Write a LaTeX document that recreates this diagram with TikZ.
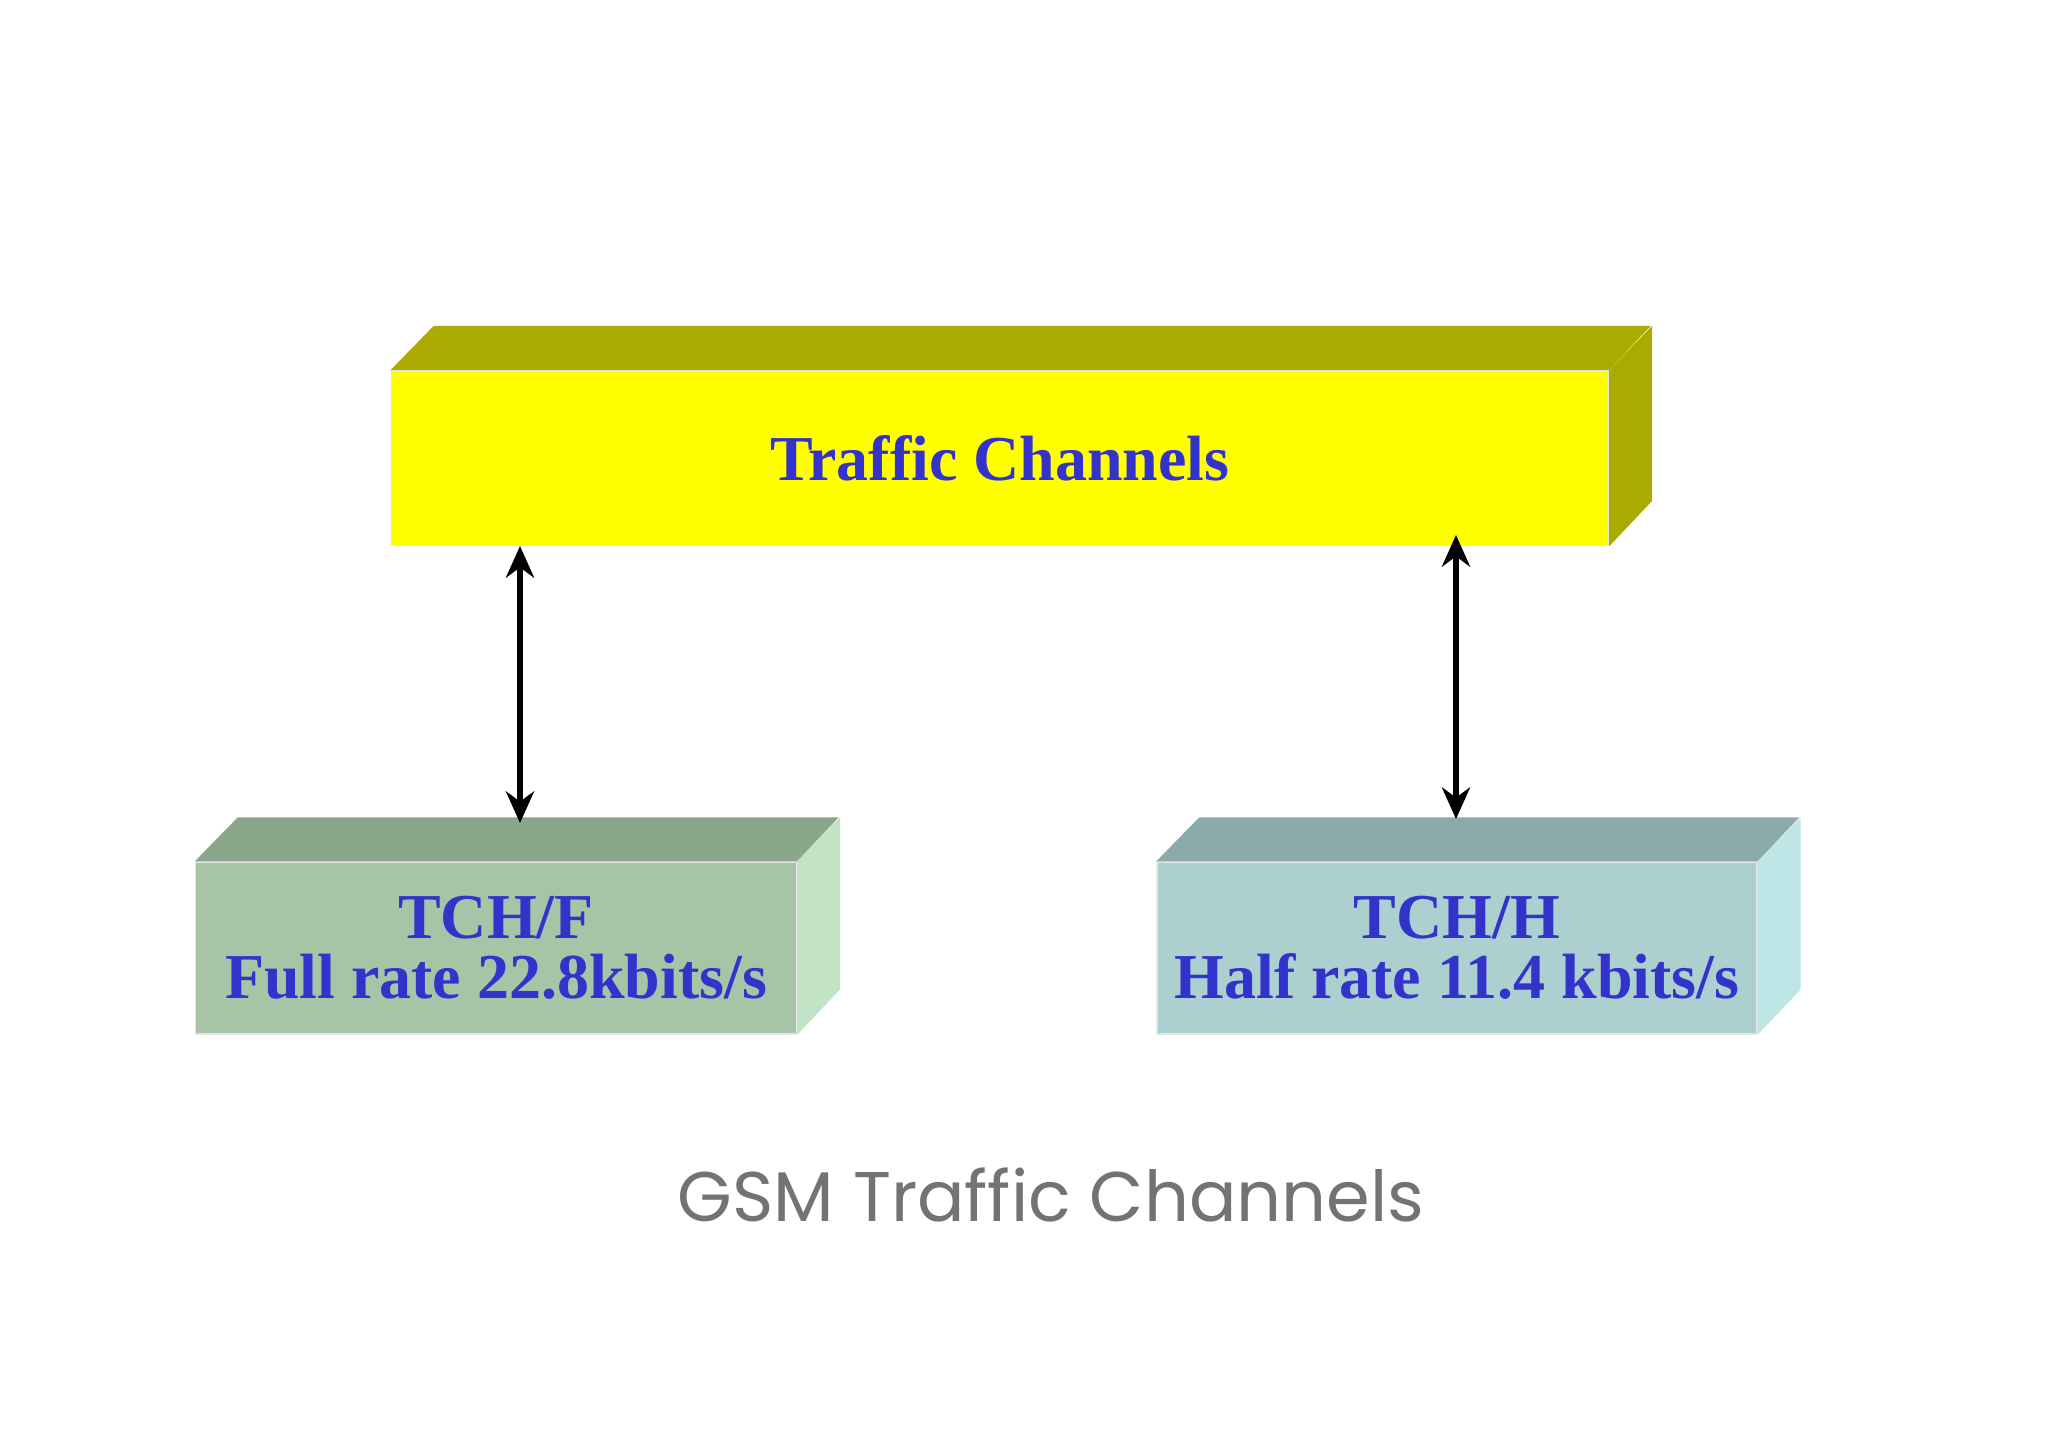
\documentclass[tikz,border=0pt]{standalone}
\usepackage{fontspec}
\setmainfont{Liberation Serif}
\newfontfamily\capfont{Poppins}
\usetikzlibrary{arrows.meta}
\definecolor{txtblue}{HTML}{3333CC}
\definecolor{yelfront}{HTML}{FFFF00}
\definecolor{yeldark}{HTML}{AAAA00}
\definecolor{grnfront}{HTML}{A8C4A6}
\definecolor{grntop}{HTML}{8BA78A}
\definecolor{grnside}{HTML}{C2E4C4}
\definecolor{blufront}{HTML}{ACCFCF}
\definecolor{blutop}{HTML}{8BAAAA}
\definecolor{bluside}{HTML}{BEE6E6}
\tikzset{
	front/.style={inner sep=0pt, align=center, text=txtblue, font=\fontsize{18.2}{18}\selectfont\bfseries, draw=black!10},
	link/.style={line width=1.6pt, {Stealth[length=9pt,width=8pt]}-{Stealth[length=9pt,width=8pt]}}
}
\begin{document}
\begin{tikzpicture}
	\useasboundingbox[fill=white] (0,0) rectangle (20.48,-14.48);
	
	% top box
	\node[front, fill=yelfront, minimum width=12.17cm, minimum height=1.75cm] (tc) at (10.00,-4.58) {Traffic Channels};
	\fill[yeldark] (tc.north west) -- ++(0.43,0.44) -- ++(12.17,0) -- (tc.north east) -- cycle;
	\fill[yeldark] (tc.north east) -- ++(0.43,0.44) -- ++(0,-1.75) -- (tc.south east) -- cycle;
	
	% full rate box
	\node[front, fill=grnfront, minimum width=6.01cm, minimum height=1.72cm] (tchf) at (4.96,-9.48) {TCH/F\\[-1pt]Full rate 22.8kbits/s};
	\fill[grntop] (tchf.north west) -- ++(0.43,0.44) -- ++(6.01,0) -- (tchf.north east) -- cycle;
	\fill[grnside] (tchf.north east) -- ++(0.43,0.44) -- ++(0,-1.72) -- (tchf.south east) -- cycle;
	
	% half rate box
	\node[front, fill=blufront, minimum width=6.00cm, minimum height=1.72cm] (tchh) at (14.57,-9.48) {TCH/H\\[-1pt]Half rate 11.4 kbits/s};
	\fill[blutop] (tchh.north west) -- ++(0.43,0.44) -- ++(6.00,0) -- (tchh.north east) -- cycle;
	\fill[bluside] (tchh.north east) -- ++(0.43,0.44) -- ++(0,-1.72) -- (tchh.south east) -- cycle;
	
	\coordinate (fa) at (5.20,-5.46);
	\coordinate (fb) at (5.20,-8.23);
	\coordinate (ha) at (14.56,-5.35);
	\coordinate (hb) at (14.56,-8.19);
	\draw[link] (fa) -- (fb);
	\draw[link] (ha) -- (hb);
	
	\node[text=black!55, font=\capfont\fontsize{20}{24}\selectfont] (cap) at (10.51,-11.95) {GSM Traffic Channels};
\end{tikzpicture}
\end{document}
